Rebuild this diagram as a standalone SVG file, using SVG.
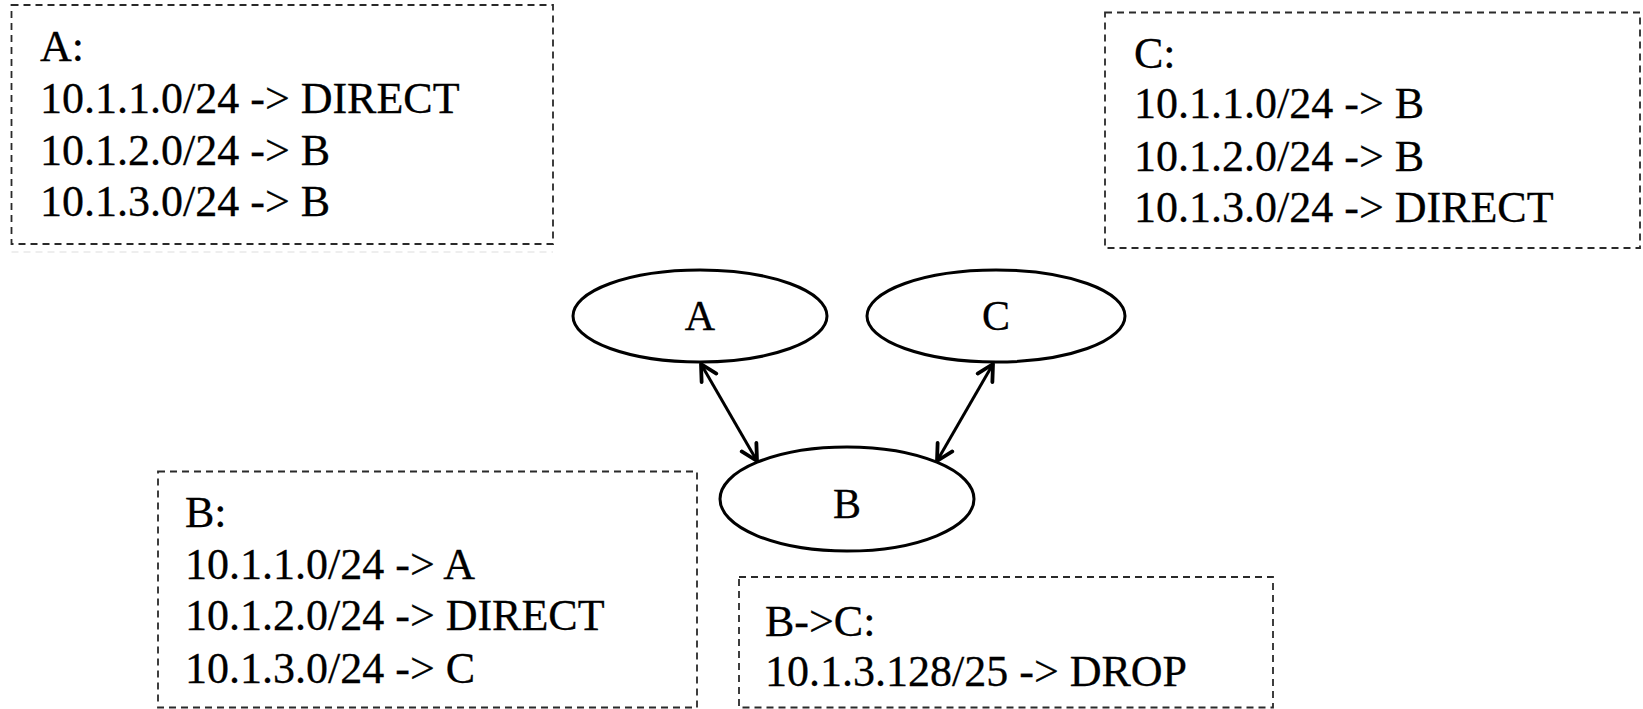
<svg xmlns="http://www.w3.org/2000/svg" width="1643" height="709" viewBox="0 0 1643 709">
<style>
.box{fill:none;stroke:#2a2a2a;stroke-width:1.8;stroke-dasharray:7,5}
.t{font-family:"Liberation Serif","Times New Roman",serif;font-size:44px;fill:#000;stroke:#000;stroke-width:0.3}
.n{font-family:"Liberation Serif","Times New Roman",serif;font-size:42px;fill:#000;stroke:#000;stroke-width:0.3;text-anchor:middle}
.node{fill:#fff;stroke:#000;stroke-width:3}
.edge{stroke:#000;stroke-width:3;fill:none;marker-start:url(#ah);marker-end:url(#ah)}
</style>
<defs>
<marker id="ah" markerUnits="userSpaceOnUse" viewBox="0 0 22 22" refX="18" refY="11" markerWidth="22" markerHeight="22" orient="auto-start-reverse">
<path d="M2,2.5 L18,11 L2,19.5" fill="none" stroke="#000" stroke-width="3.8" stroke-linecap="round" stroke-linejoin="round"/>
</marker>
</defs>
<rect width="1643" height="709" fill="#fff"/>
<g id="tableA">
<rect class="box" x="11.5" y="5" width="541.5" height="239"/>
<line x1="11.5" y1="252" x2="553" y2="252" stroke="#ddd" stroke-width="1.2" stroke-dasharray="7,5"/>
<text class="t" x="40" y="61">A:</text>
<text class="t" x="40" y="113">10.1.1.0/24 -&gt; DIRECT</text>
<text class="t" x="40" y="165">10.1.2.0/24 -&gt; B</text>
<text class="t" x="40" y="216">10.1.3.0/24 -&gt; B</text>
</g>
<g id="tableC">
<rect class="box" x="1105" y="12.5" width="535" height="235.5"/>
<text class="t" x="1134" y="68">C:</text>
<text class="t" x="1134" y="118">10.1.1.0/24 -&gt; B</text>
<text class="t" x="1134" y="171">10.1.2.0/24 -&gt; B</text>
<text class="t" x="1134" y="222">10.1.3.0/24 -&gt; DIRECT</text>
</g>
<g id="tableB">
<rect class="box" x="158" y="471.5" width="539" height="236"/>
<text class="t" x="185" y="527">B:</text>
<text class="t" x="185" y="579">10.1.1.0/24 -&gt; A</text>
<text class="t" x="185" y="630">10.1.2.0/24 -&gt; DIRECT</text>
<text class="t" x="185" y="683">10.1.3.0/24 -&gt; C</text>
</g>
<g id="tableBC">
<rect class="box" x="739" y="577" width="534" height="130.5"/>
<text class="t" x="765" y="636">B-&gt;C:</text>
<text class="t" x="765" y="686">10.1.3.128/25 -&gt; DROP</text>
</g>
<g id="connectors">
<line class="edge" x1="701" y1="364" x2="757" y2="461"/>
<line class="edge" x1="993" y1="364" x2="937" y2="461"/>
</g>
<g id="nodeA">
<ellipse class="node" cx="700" cy="316" rx="127" ry="46"/>
<text class="n" x="700" y="330">A</text>
</g>
<g id="nodeC">
<ellipse class="node" cx="996" cy="316" rx="129" ry="46"/>
<text class="n" x="996" y="330">C</text>
</g>
<g id="nodeB">
<ellipse class="node" cx="847" cy="499" rx="127" ry="52"/>
<text class="n" x="847" y="518">B</text>
</g>
</svg>
